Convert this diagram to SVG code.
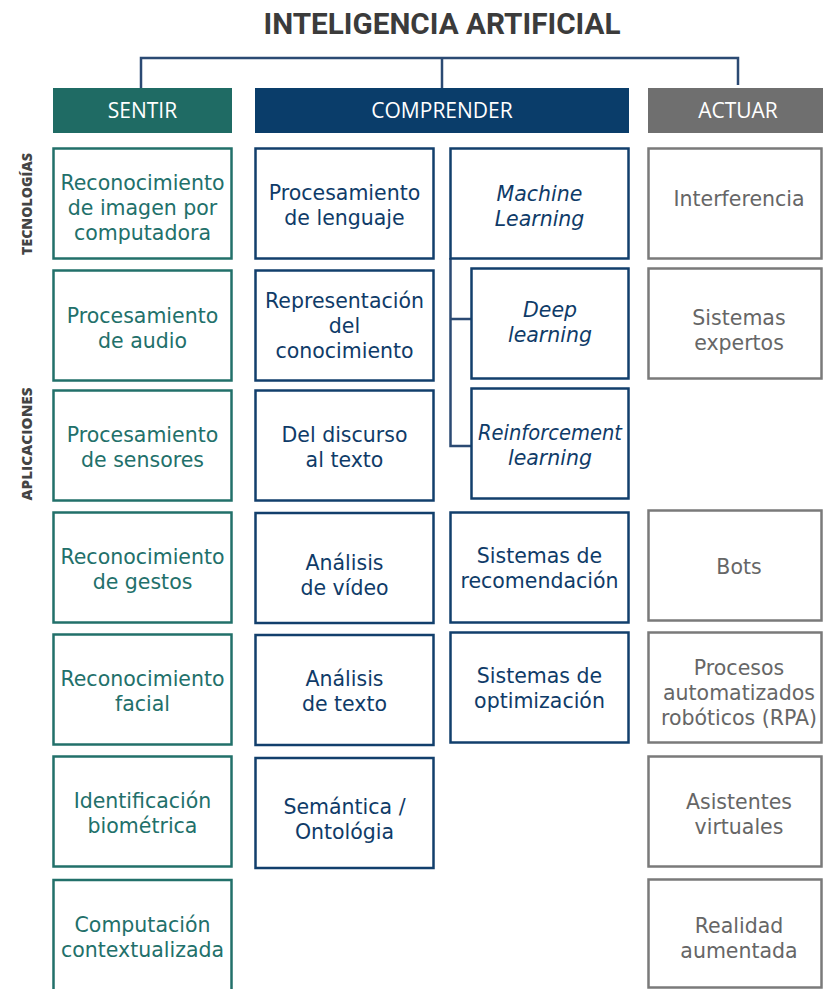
<svg xmlns="http://www.w3.org/2000/svg" width="823" height="989" viewBox="0 0 823 989">
<style>
  text { font-family: "DejaVu Sans", "Open Sans", sans-serif; text-anchor: middle; }
  .title { font-family: Roboto, "Open Sans", sans-serif; font-weight: 700; font-size: 30px; fill: #3b3b3b; }
  .side { font-family: "Open Sans", sans-serif; font-weight: 800; font-size: 13.5px; fill: #444444; }
  .hdr { font-family: "Open Sans", sans-serif; font-size: 21px; fill: #ffffff; }
  .box { fill: #ffffff; stroke-width: 2.5; }
  .s rect { stroke: #22706a; }
  .s text { fill: #22706a; font-size: 20.5px; }
  .c rect { stroke: #123f6c; }
  .c text { fill: #0f3b68; font-size: 20.5px; }
  .c text.it { font-style: italic; }
  .a rect { stroke: #7a7a7a; }
  .a text { fill: #666666; font-size: 20.5px; }
  .conn { fill: none; stroke: #2b4a73; stroke-width: 2.5; }
</style>

<text class="title" x="442" y="34" textLength="357" lengthAdjust="spacingAndGlyphs">INTELIGENCIA ARTIFICIAL</text>

<g id="connectors">
  <path class="conn" d="M141 88 V58 H738 V85"/>
  <path class="conn" d="M442 58 V88"/>
  <path class="conn" d="M450.5 258 V446 H471 M450.5 319 H471"/>
</g>

<text class="side" transform="translate(32,204) rotate(-90)" textLength="102" lengthAdjust="spacingAndGlyphs">TECNOLOGÍAS</text>
<text class="side" transform="translate(32,444) rotate(-90)" textLength="113" lengthAdjust="spacingAndGlyphs">APLICACIONES</text>

<g id="hdr-sentir">
  <rect x="53" y="88" width="179" height="45" fill="#1f6b64"/>
  <text class="hdr" x="142.5" y="118">SENTIR</text>
</g>
<g id="hdr-comprender">
  <rect x="255" y="88" width="374" height="45" fill="#0a3d6a"/>
  <text class="hdr" x="442" y="118">COMPRENDER</text>
</g>
<g id="hdr-actuar">
  <rect x="648" y="88" width="175" height="45" fill="#6f6f6f"/>
  <text class="hdr" x="738" y="118">ACTUAR</text>
</g>

<!-- SENTIR column -->
<g id="s1" class="s"><rect class="box" x="53.5" y="148.5" width="178" height="110"/>
  <text x="142.5" y="190">Reconocimiento</text><text x="142.5" y="215">de imagen por</text><text x="142.5" y="240">computadora</text></g>
<g id="s2" class="s"><rect class="box" x="53.5" y="270.5" width="178" height="110"/>
  <text x="142.5" y="323">Procesamiento</text><text x="142.5" y="347.5">de audio</text></g>
<g id="s3" class="s"><rect class="box" x="53.5" y="390.5" width="178" height="110"/>
  <text x="142.5" y="442">Procesamiento</text><text x="142.5" y="466.5">de sensores</text></g>
<g id="s4" class="s"><rect class="box" x="53.5" y="512.5" width="178" height="110"/>
  <text x="142.5" y="564">Reconocimiento</text><text x="142.5" y="588.5">de gestos</text></g>
<g id="s5" class="s"><rect class="box" x="53.5" y="634.5" width="178" height="110"/>
  <text x="142.5" y="686">Reconocimiento</text><text x="142.5" y="710.5">facial</text></g>
<g id="s6" class="s"><rect class="box" x="53.5" y="756.5" width="178" height="110"/>
  <text x="142.5" y="808">Identificación</text><text x="142.5" y="832.5">biométrica</text></g>
<g id="s7" class="s"><rect class="box" x="53.5" y="880" width="178" height="120"/>
  <text x="142.5" y="932">Computación</text><text x="142.5" y="956.5">contextualizada</text></g>

<!-- COMPRENDER column 1 -->
<g id="c1" class="c"><rect class="box" x="255.5" y="148.5" width="178" height="110"/>
  <text x="344.5" y="200">Procesamiento</text><text x="344.5" y="224.5">de lenguaje</text></g>
<g id="c2" class="c"><rect class="box" x="255.5" y="270.5" width="178" height="110"/>
  <text x="344.5" y="308">Representación</text><text x="344.5" y="333">del</text><text x="344.5" y="358">conocimiento</text></g>
<g id="c3" class="c"><rect class="box" x="255.5" y="390.5" width="178" height="110"/>
  <text x="344.5" y="442">Del discurso</text><text x="344.5" y="467">al texto</text></g>
<g id="c4" class="c"><rect class="box" x="255.5" y="513" width="178" height="110"/>
  <text x="344.5" y="570">Análisis</text><text x="344.5" y="594.5">de vídeo</text></g>
<g id="c5" class="c"><rect class="box" x="255.5" y="635" width="178" height="110"/>
  <text x="344.5" y="686">Análisis</text><text x="344.5" y="711">de texto</text></g>
<g id="c6" class="c"><rect class="box" x="255.5" y="758" width="178" height="110"/>
  <text x="344.5" y="814">Semántica /</text><text x="344.5" y="839">Ontológia</text></g>

<!-- COMPRENDER column 2 -->
<g id="c7" class="c"><rect class="box" x="450.5" y="148.5" width="178" height="110"/>
  <text class="it" x="539.5" y="201">Machine</text><text class="it" x="539.5" y="225.5">Learning</text></g>
<g id="c8" class="c"><rect class="box" x="471.5" y="268.5" width="157" height="110"/>
  <text class="it" x="550" y="317">Deep</text><text class="it" x="550" y="342">learning</text></g>
<g id="c9" class="c"><rect class="box" x="471.5" y="388.5" width="157" height="110"/>
  <text class="it" x="550" y="440" textLength="144" lengthAdjust="spacingAndGlyphs">Reinforcement</text><text class="it" x="550" y="464.5">learning</text></g>
<g id="c10" class="c"><rect class="box" x="450.5" y="512.5" width="178" height="110"/>
  <text x="539.5" y="563">Sistemas de</text><text x="539.5" y="588">recomendación</text></g>
<g id="c11" class="c"><rect class="box" x="450.5" y="632.5" width="178" height="110"/>
  <text x="539.5" y="683">Sistemas de</text><text x="539.5" y="707.5">optimización</text></g>

<!-- ACTUAR column -->
<g id="a1" class="a"><rect class="box" x="648.5" y="148.5" width="173" height="110"/>
  <text x="739" y="206">Interferencia</text></g>
<g id="a2" class="a"><rect class="box" x="648.5" y="268.5" width="173" height="110"/>
  <text x="739" y="325">Sistemas</text><text x="739" y="350">expertos</text></g>
<g id="a3" class="a"><rect class="box" x="648.5" y="510.5" width="173" height="110"/>
  <text x="739" y="574">Bots</text></g>
<g id="a4" class="a"><rect class="box" x="648.5" y="632.5" width="173" height="110"/>
  <text x="739" y="675">Procesos</text><text x="739" y="700">automatizados</text><text x="739" y="725">robóticos (RPA)</text></g>
<g id="a5" class="a"><rect class="box" x="648.5" y="756.5" width="173" height="110"/>
  <text x="739" y="809">Asistentes</text><text x="739" y="833.5">virtuales</text></g>
<g id="a6" class="a"><rect class="box" x="648.5" y="879.5" width="173" height="108"/>
  <text x="739" y="933">Realidad</text><text x="739" y="958">aumentada</text></g>
</svg>
